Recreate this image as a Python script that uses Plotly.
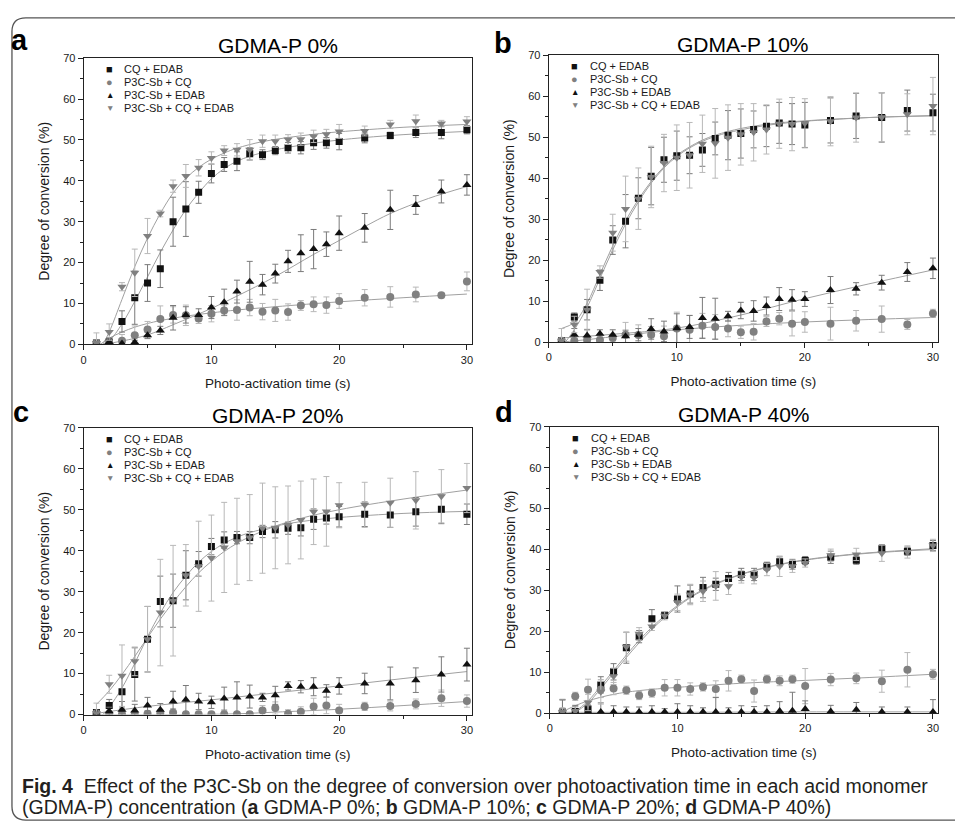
import plotly.graph_objects as go

W, H = 955, 829
FONT = "Liberation Sans, Arial, sans-serif"
CAP_FONT = "Liberation Sans, Arial, sans-serif"
TXT = "#1a1a1a"
AX = "#222222"

# ---------------- data ----------------
time_s = [1, 2, 3, 4, 5, 6, 7, 8, 9, 10, 11, 12, 13, 14, 15, 16, 17, 18, 19, 20, 22, 24, 26, 28, 30]

series_names = ["CQ + EDAB", "P3C-Sb + CQ", "P3C-Sb + EDAB", "P3C-Sb + CQ + EDAB"]

# Panel a: GDMA-P 0%
a_cq_edab = [0.3, 0.6, 5.6, 11.4, 15.0, 18.5, 30.0, 33.1, 37.2, 41.8, 44.0, 44.8, 46.6, 46.4, 47.4, 48.1, 48.1, 49.3, 49.3, 49.6, 50.5, 51.1, 51.8, 51.8, 52.5]
a_cq_edab_err = [0.5, 1.0, 2.6, 6.5, 4.5, 4.6, 6.0, 6.7, 2.7, 2.3, 1.7, 2.3, 1.5, 1.2, 1.0, 1.3, 1.5, 1.6, 1.3, 2.0, 1.2, 0.8, 1.2, 1.5, 1.0]
a_sb_cq = [0.3, 0.3, 0.9, 2.2, 3.6, 6.2, 7.2, 7.1, 6.3, 7.5, 8.3, 8.4, 9.0, 8.0, 8.3, 7.9, 9.5, 9.8, 9.6, 10.6, 11.4, 11.6, 12.2, 12.0, 15.4]
a_sb_cq_err = [0.5, 0.5, 1.5, 2.3, 2.0, 3.2, 2.0, 2.5, 1.2, 2.0, 1.3, 2.5, 2.0, 2.0, 2.7, 2.0, 1.2, 1.8, 2.0, 1.8, 2.0, 2.5, 1.8, 0.6, 2.3]
a_sb_edab = [0.2, 0.6, 0.2, 0.5, 2.2, 3.4, 6.5, 7.2, 7.2, 9.0, 10.3, 12.9, 15.3, 14.6, 17.3, 20.3, 22.3, 23.3, 24.5, 27.2, 28.5, 32.9, 34.1, 37.4, 39.0]
a_sb_edab_err = [0.5, 0.5, 0.5, 0.5, 0.8, 1.0, 3.0, 2.0, 1.5, 2.7, 3.2, 2.8, 5.0, 2.5, 2.3, 2.7, 4.5, 4.8, 3.0, 4.2, 3.5, 4.8, 2.3, 2.8, 2.5]
a_sb_cq_edab = [0.3, 3.0, 14.1, 17.5, 26.5, 32.0, 38.7, 41.2, 43.2, 45.6, 47.4, 47.6, 47.6, 49.7, 49.7, 50.1, 50.2, 50.9, 51.4, 52.1, 52.2, 53.8, 54.6, 54.0, 54.5]
a_sb_cq_edab_err = [2.5, 2.0, 1.0, 5.8, 4.3, 0.8, 1.5, 2.8, 2.0, 1.5, 1.2, 1.5, 2.5, 1.5, 1.5, 1.2, 1.5, 1.5, 1.2, 1.7, 1.2, 1.0, 1.5, 0.8, 1.2]

# Panel b: GDMA-P 10%
b_cq_edab = [0.3, 6.1, 7.9, 15.1, 24.9, 29.5, 35.1, 40.5, 44.5, 45.5, 45.6, 46.9, 49.7, 50.5, 50.9, 51.9, 52.7, 53.5, 53.2, 53.0, 54.1, 55.2, 54.8, 56.5, 56.0]
b_cq_edab_err = [0.5, 1.0, 2.5, 2.5, 3.5, 6.5, 5.0, 7.0, 5.5, 6.0, 4.5, 4.0, 4.0, 6.0, 6.0, 4.5, 5.0, 5.0, 5.0, 5.5, 5.5, 5.5, 6.0, 5.0, 4.5]
b_sb_cq = [0.3, 0.3, 0.5, 0.5, 1.0, 1.8, 1.7, 1.8, 1.4, 3.3, 3.0, 4.0, 3.7, 3.3, 2.4, 2.5, 5.0, 5.7, 4.5, 4.9, 4.5, 5.2, 5.6, 4.3, 7.0]
b_sb_cq_err = [0.5, 0.5, 1.0, 0.8, 1.0, 3.0, 2.5, 2.0, 2.5, 4.0, 3.5, 3.0, 3.0, 2.0, 1.5, 2.0, 1.2, 1.5, 3.0, 2.5, 4.0, 2.5, 3.2, 1.2, 1.0]
b_sb_edab = [0.2, 1.8, 1.6, 2.0, 1.8, 1.4, 1.8, 3.2, 2.6, 3.4, 3.7, 5.9, 5.7, 6.3, 7.7, 7.6, 8.8, 10.5, 10.3, 10.5, 12.7, 13.0, 14.5, 17.1, 18.0]
b_sb_edab_err = [0.5, 1.5, 1.5, 1.0, 1.2, 1.5, 1.5, 2.5, 2.5, 3.5, 2.8, 5.0, 5.0, 1.2, 2.0, 2.5, 2.2, 2.8, 2.5, 1.8, 3.3, 1.5, 1.8, 2.3, 2.5]
b_sb_cq_edab = [0.3, 4.3, 7.9, 17.1, 26.7, 32.5, 35.0, 40.3, 43.7, 45.0, 45.6, 48.4, 48.5, 49.9, 50.7, 51.2, 51.9, 53.3, 53.2, 53.4, 53.9, 54.8, 54.9, 55.6, 57.6]
b_sb_cq_edab_err = [3.0, 2.0, 5.0, 1.5, 4.5, 8.0, 7.5, 7.5, 7.0, 8.0, 8.0, 7.0, 8.5, 8.0, 7.5, 7.0, 6.0, 6.0, 6.5, 6.0, 6.0, 6.0, 6.0, 5.0, 7.0]

# Panel c: GDMA-P 20%
c_cq_edab = [0.5, 2.2, 5.6, 9.8, 18.4, 27.6, 27.8, 34.0, 36.8, 41.0, 42.6, 43.2, 43.2, 44.7, 45.1, 45.5, 45.6, 47.7, 48.0, 48.3, 48.9, 48.7, 49.5, 50.1, 48.9]
c_cq_edab_err = [0.5, 1.5, 4.0, 6.5, 8.0, 6.2, 6.5, 6.0, 3.0, 2.0, 2.0, 1.5, 1.5, 1.5, 2.0, 1.5, 2.0, 2.5, 1.5, 2.5, 3.0, 3.0, 3.5, 3.5, 2.5]
c_sb_cq = [0.3, 0.1, 0.1, 0.1, 0.2, 0.4, 0.5, 0.1, 0.1, 0.1, 0.1, 0.1, 0.1, 1.0, 1.6, 0.2, 0.7, 2.0, 2.2, 1.0, 2.0, 2.1, 2.6, 4.0, 3.3]
c_sb_cq_err = [0.5, 0.5, 1.0, 0.5, 0.8, 0.8, 1.0, 0.5, 0.5, 0.5, 0.5, 0.5, 0.5, 1.2, 1.5, 1.0, 1.2, 2.0, 2.0, 1.5, 1.0, 1.2, 1.2, 2.0, 1.5]
c_sb_edab = [0.3, 0.8, 1.2, 1.0, 2.2, 1.2, 3.2, 3.6, 3.2, 3.0, 3.9, 4.2, 4.4, 4.2, 4.7, 7.0, 6.8, 6.8, 5.8, 7.0, 7.6, 7.6, 8.4, 9.8, 12.2]
c_sb_edab_err = [0.5, 1.0, 2.0, 1.5, 2.0, 1.5, 2.5, 3.5, 2.0, 1.5, 2.8, 3.8, 2.8, 1.0, 2.2, 1.0, 1.5, 2.2, 1.5, 2.0, 2.5, 4.0, 3.0, 4.3, 4.0]
c_sb_cq_edab = [0.3, 7.4, 9.5, 13.0, 18.4, 24.9, 27.8, 34.0, 36.2, 38.2, 40.8, 42.3, 43.2, 45.5, 45.6, 46.3, 47.5, 49.5, 49.6, 51.1, 51.2, 51.7, 52.3, 53.3, 55.3]
c_sb_cq_edab_err = [2.5, 2.2, 7.5, 3.5, 8.0, 13.0, 13.5, 7.5, 11.0, 10.5, 11.0, 10.5, 10.5, 11.0, 10.0, 9.5, 9.5, 8.0, 8.5, 5.5, 5.5, 6.0, 7.0, 6.5, 6.0]

# Panel d: GDMA-P 40%
d_cq_edab = [0.3, 0.4, 1.0, 6.9, 10.1, 16.0, 18.7, 23.1, 23.9, 27.9, 29.1, 30.7, 31.5, 32.9, 33.9, 33.9, 35.9, 37.0, 36.4, 37.3, 38.1, 37.4, 40.2, 39.6, 41.0]
d_cq_edab_err = [3.0, 1.5, 1.0, 2.0, 2.0, 3.8, 1.5, 2.2, 0.8, 3.2, 2.2, 2.5, 1.5, 1.5, 1.5, 1.5, 1.0, 1.2, 1.2, 1.0, 1.5, 1.0, 1.0, 1.0, 1.2]
d_sb_cq = [0.4, 4.1, 5.7, 5.8, 6.0, 5.6, 4.3, 4.9, 6.2, 6.2, 5.9, 6.4, 5.9, 7.9, 8.3, 5.4, 8.3, 7.9, 8.3, 6.6, 8.2, 8.5, 7.8, 10.6, 9.5]
d_sb_cq_err = [3.0, 1.0, 2.6, 2.0, 1.5, 1.0, 1.0, 1.0, 2.0, 2.0, 1.5, 1.0, 2.0, 2.5, 1.0, 2.7, 1.0, 1.2, 1.0, 4.3, 1.5, 1.3, 2.7, 4.2, 1.2]
d_sb_edab = [0.2, 0.2, 0.3, 0.3, 0.3, 0.3, 0.3, 0.3, 0.3, 0.3, 0.3, 0.3, 0.3, 0.3, 0.3, 0.3, 0.3, 0.5, 0.6, 1.0, 0.4, 0.8, 0.3, 0.3, 0.3]
d_sb_edab_err = [3.0, 1.5, 1.5, 2.2, 1.5, 1.2, 1.2, 1.5, 0.8, 2.0, 1.5, 1.0, 3.5, 1.0, 1.5, 1.3, 1.5, 2.3, 4.5, 2.0, 1.5, 1.8, 1.2, 1.2, 3.0]
d_sb_cq_edab = [0.3, 0.5, 2.6, 5.2, 9.0, 16.2, 19.4, 21.2, 23.8, 27.1, 29.0, 29.8, 31.1, 31.0, 33.3, 33.1, 35.1, 35.9, 35.9, 36.7, 38.6, 38.8, 39.1, 39.4, 41.0]
d_sb_cq_edab_err = [1.0, 1.0, 2.0, 3.0, 2.0, 3.5, 1.5, 1.0, 1.0, 2.0, 2.5, 2.5, 3.5, 2.0, 1.5, 1.5, 1.5, 2.5, 1.5, 1.0, 1.5, 1.5, 2.0, 1.5, 1.5]

# Fitted curves
fa_cq_edab_t = [1.5, 2, 3, 4, 5, 6, 7, 8, 9, 10, 11, 12, 13, 14, 16, 18, 20, 22, 25, 30]
fa_cq_edab_v = [0, 0.8, 5.0, 10.5, 16.5, 22.5, 28.0, 33.0, 37.0, 40.5, 43.0, 44.8, 46.0, 46.9, 48.2, 49.2, 50.0, 50.6, 51.3, 52.1]
fa_sb_cq_t = [1.3, 2, 3, 4, 5, 6, 8, 10, 12, 15, 20, 25, 30]
fa_sb_cq_v = [0, 1.5, 3.0, 4.2, 5.1, 5.8, 6.9, 7.7, 8.4, 9.2, 10.4, 11.4, 12.3]
fa_sb_edab_t = [1.5, 3, 5, 7, 10, 12, 15, 18, 20, 22, 24, 27, 30]
fa_sb_edab_v = [0, 0.8, 2.3, 4.8, 8.8, 11.8, 16.6, 22.0, 25.4, 28.8, 32.0, 35.7, 38.6]
fa_sb_cq_edab_t = [1.5, 2, 3, 4, 5, 6, 7, 8, 9, 10, 11, 12, 14, 16, 18, 20, 25, 30]
fa_sb_cq_edab_v = [0, 3.0, 11.0, 19.0, 26.0, 32.0, 37.0, 40.6, 43.3, 45.3, 46.8, 48.0, 49.6, 50.6, 51.4, 52.0, 53.1, 53.8]

fb_cq_edab_t = [1.3, 2, 3, 4, 5, 6, 7, 8, 9, 10, 11, 12, 13, 14, 16, 18, 20, 22, 25, 30]
fb_cq_edab_v = [0, 3.0, 8.5, 15.5, 22.5, 28.8, 34.2, 38.8, 42.5, 45.3, 47.4, 49.0, 50.2, 51.1, 52.4, 53.3, 53.9, 54.3, 54.8, 55.3]
fb_sb_cq_t = [1, 3, 5, 10, 15, 20, 25, 30]
fb_sb_cq_v = [0, 0.6, 1.3, 3.0, 4.1, 4.9, 5.5, 6.0]
fb_sb_edab_t = [1, 5, 10, 15, 20, 25, 30]
fb_sb_edab_v = [1.0, 1.9, 3.4, 6.6, 10.6, 14.2, 17.6]
fb_sb_cq_edab_t = [1, 2, 3, 4, 5, 6, 7, 8, 9, 10, 12, 14, 16, 18, 20, 25, 30]
fb_sb_cq_edab_v = [3.3, 4.8, 9.5, 16.5, 23.5, 29.6, 34.8, 39.2, 42.8, 45.6, 49.3, 51.4, 52.7, 53.5, 54.0, 54.8, 55.2]

fc_cq_edab_t = [1.5, 2, 3, 4, 5, 6, 7, 8, 9, 10, 11, 12, 13, 15, 17, 20, 25, 30]
fc_cq_edab_v = [0, 1.8, 6.5, 12.5, 19.0, 24.8, 29.8, 33.8, 37.2, 39.8, 41.8, 43.3, 44.4, 46.0, 47.1, 48.1, 49.1, 49.6]
fc_sb_cq_t = [1, 8, 12, 15, 20, 25, 30]
fc_sb_cq_v = [0, 0, 0.2, 0.6, 1.3, 2.2, 3.2]
fc_sb_edab_t = [1, 5, 10, 15, 20, 25, 30]
fc_sb_edab_v = [0.3, 2.0, 3.6, 5.3, 7.0, 8.8, 10.5]
fc_sb_cq_edab_t = [1, 2, 3, 4, 5, 6, 7, 8, 9, 10, 11, 12, 13, 15, 17, 20, 25, 30]
fc_sb_cq_edab_v = [2.5, 5.8, 9.8, 14.2, 18.8, 23.3, 27.4, 31.2, 34.6, 37.4, 39.8, 41.8, 43.4, 46.0, 47.9, 50.0, 52.6, 54.8]

fd_cq_edab_t = [1.5, 2, 3, 4, 5, 6, 7, 8, 9, 10, 11, 12, 13, 14, 15, 16, 18, 20, 22, 25, 30]
fd_cq_edab_v = [0, 0.5, 3.0, 6.6, 10.4, 14.2, 17.8, 21.0, 23.8, 26.3, 28.4, 30.2, 31.7, 32.9, 34.0, 34.9, 36.4, 37.5, 38.3, 39.2, 40.2]
fd_sb_cq_t = [1.3, 2, 3, 5, 7, 10, 15, 20, 25, 30]
fd_sb_cq_v = [0.8, 1.8, 3.0, 4.6, 5.5, 6.3, 7.3, 8.0, 8.7, 9.5]
fd_sb_edab_t = [1, 10, 20, 30]
fd_sb_edab_v = [0.2, 0.2, 0.3, 0.3]
fd_sb_cq_edab_t = [1.5, 2, 3, 4, 5, 6, 7, 8, 9, 10, 11, 12, 13, 14, 15, 16, 18, 20, 22, 25, 30]
fd_sb_cq_edab_v = [0, 0.3, 2.5, 6.0, 9.8, 13.6, 17.2, 20.5, 23.4, 26.0, 28.2, 30.0, 31.5, 32.8, 33.9, 34.8, 36.3, 37.4, 38.2, 39.1, 40.0]

panel_titles = ["GDMA-P 0%", "GDMA-P 10%", "GDMA-P 20%", "GDMA-P 40%"]
panel_letters = ["a", "b", "c", "d"]
x_title = "Photo-activation time (s)"
y_title = "Degree of conversion (%)"
caption_1 = "<b>Fig. 4</b>  Effect of the P3C-Sb on the degree of conversion over photoactivation time in each acid monomer"
caption_2 = "(GDMA-P) concentration (<b>a</b> GDMA-P 0%; <b>b</b> GDMA-P 10%; <b>c</b> GDMA-P 20%; <b>d</b> GDMA-P 40%)"

# ---------------- styling / layout geometry ----------------
BLACK = "#111111"
GREY = "#808080"
ERR_DARK = "#7a7a7a"
ERR_LIGHT = "#b8b8b8"
FIT = "#a0a0a0"
styles = [
    dict(symbol="square", color=BLACK, size=7, err=ERR_DARK, glyph="\u25A0", gsize=11),
    dict(symbol="circle", color=GREY, size=8, err=ERR_LIGHT, glyph="\u25CF", gsize=11),
    dict(symbol="triangle-up", color=BLACK, size=8, err=ERR_DARK, glyph="\u25B2", gsize=8.5),
    dict(symbol="triangle-down", color=GREY, size=8, err=ERR_LIGHT, glyph="\u25BC", gsize=8.5),
]

# plot-area pixel boxes: (left, right, top, bottom)
boxes = [(81, 471, 53, 343.3), (548, 939, 50, 341), (81, 471, 428, 719), (549, 939, 427, 717.5)]
letter_pos = [(6, 34), (491, 38), (8, 412), (492, 412)]
title_y = [40, 39, 416, 415]

data = [
    [(a_cq_edab, a_cq_edab_err), (a_sb_cq, a_sb_cq_err), (a_sb_edab, a_sb_edab_err), (a_sb_cq_edab, a_sb_cq_edab_err)],
    [(b_cq_edab, b_cq_edab_err), (b_sb_cq, b_sb_cq_err), (b_sb_edab, b_sb_edab_err), (b_sb_cq_edab, b_sb_cq_edab_err)],
    [(c_cq_edab, c_cq_edab_err), (c_sb_cq, c_sb_cq_err), (c_sb_edab, c_sb_edab_err), (c_sb_cq_edab, c_sb_cq_edab_err)],
    [(d_cq_edab, d_cq_edab_err), (d_sb_cq, d_sb_cq_err), (d_sb_edab, d_sb_edab_err), (d_sb_cq_edab, d_sb_cq_edab_err)],
]
fits = [
    [(fa_cq_edab_t, fa_cq_edab_v), (fa_sb_cq_t, fa_sb_cq_v), (fa_sb_edab_t, fa_sb_edab_v), (fa_sb_cq_edab_t, fa_sb_cq_edab_v)],
    [(fb_cq_edab_t, fb_cq_edab_v), (fb_sb_cq_t, fb_sb_cq_v), (fb_sb_edab_t, fb_sb_edab_v), (fb_sb_cq_edab_t, fb_sb_cq_edab_v)],
    [(fc_cq_edab_t, fc_cq_edab_v), (fc_sb_cq_t, fc_sb_cq_v), (fc_sb_edab_t, fc_sb_edab_v), (fc_sb_cq_edab_t, fc_sb_cq_edab_v)],
    [(fd_cq_edab_t, fd_cq_edab_v), (fd_sb_cq_t, fd_sb_cq_v), (fd_sb_edab_t, fd_sb_edab_v), (fd_sb_cq_edab_t, fd_sb_cq_edab_v)],
]

def px(x):
    return x / W

def py(y):
    return 1 - y / H

XR = [0, 30.4]
YR = [0, 70]

fig = go.Figure()
layout = dict(
    width=W, height=H, margin=dict(l=0, r=0, t=0, b=0),
    paper_bgcolor="white", plot_bgcolor="white", showlegend=False,
    font=dict(family=FONT, color=TXT),
)
annotations = []

for i in range(4):
    n = i + 1
    xa = "x" if n == 1 else f"x{n}"
    ya = "y" if n == 1 else f"y{n}"
    L, R, T, B = boxes[i]
    xdom = [px(L), px(R)]
    ydom = [py(B), py(T)]

    # fits first (beneath markers)
    for (ft, fv) in fits[i]:
        fig.add_trace(go.Scatter(x=ft, y=fv, mode="lines", xaxis=xa, yaxis=ya,
                                 line=dict(color=FIT, width=1, shape="spline", smoothing=1.0),
                                 hoverinfo="skip", showlegend=False))
    for k, (vals, errs) in enumerate(data[i]):
        st = styles[k]
        fig.add_trace(go.Scatter(
            x=time_s, y=vals, mode="markers", name=series_names[k], xaxis=xa, yaxis=ya,
            marker=dict(symbol=st["symbol"], color=st["color"], size=st["size"], line=dict(width=0)),
            error_y=dict(type="data", array=errs, visible=True, color=st["err"], thickness=1, width=3),
            showlegend=False))

    common_font = dict(family=FONT, size=11, color=TXT)
    layout[f"xaxis{n}"] = dict(
        domain=xdom, anchor=ya, range=XR, tick0=0, dtick=10, ticks="outside", ticklen=5,
        tickwidth=1, tickcolor=AX, showline=True, linecolor=AX, linewidth=1, mirror=True,
        showgrid=False, zeroline=False, tickfont=common_font,
        minor=dict(dtick=5, tick0=0, ticks="outside", ticklen=3, tickcolor=AX, showgrid=False),
        title=dict(text=x_title, font=dict(family=FONT, size=13.5, color=TXT), standoff=14))
    layout[f"yaxis{n}"] = dict(
        domain=ydom, anchor=xa, range=YR, tick0=0, dtick=10, ticks="outside", ticklen=5,
        tickwidth=1, tickcolor=AX, showline=True, linecolor=AX, linewidth=1, mirror=True,
        showgrid=False, zeroline=False, tickfont=common_font,
        minor=dict(dtick=5, tick0=0, ticks="outside", ticklen=3, tickcolor=AX, showgrid=False),
        title=dict(text=y_title, font=dict(family=FONT, size=14, color=TXT), standoff=10))
    # inward ticks on top / right
    layout[f"xaxis{n + 4}"] = dict(
        overlaying=xa, side="top", anchor=ya, range=XR, tick0=0, dtick=10, ticks="inside",
        ticklen=5, tickcolor=AX, showticklabels=False, showline=False, showgrid=False,
        zeroline=False, minor=dict(dtick=5, tick0=0, ticks="inside", ticklen=3, tickcolor=AX))
    layout[f"yaxis{n + 4}"] = dict(
        overlaying=ya, side="right", anchor=xa, range=YR, tick0=0, dtick=10, ticks="inside",
        ticklen=5, tickcolor=AX, showticklabels=False, showline=False, showgrid=False,
        zeroline=False, minor=dict(dtick=5, tick0=0, ticks="inside", ticklen=3, tickcolor=AX))

    # panel letter and title
    lx, ly = letter_pos[i]
    annotations.append(dict(text=f"<b>{panel_letters[i]}</b>", x=px(lx), y=py(ly), xref="paper", yref="paper",
                            xanchor="left", yanchor="middle", showarrow=False,
                            font=dict(family=FONT, size=29, color="#000")))
    annotations.append(dict(text=panel_titles[i], x=px((L + R) / 2), y=py(title_y[i]), xref="paper", yref="paper",
                            xanchor="center", yanchor="middle", showarrow=False,
                            font=dict(family=FONT, size=21, color="#000")))
    # legend
    for k in range(4):
        st = styles[k]
        ry = T + 11 + 13.2 * k
        annotations.append(dict(text=st["glyph"], x=px(L + 26), y=py(ry), xref="paper", yref="paper",
                                xanchor="center", yanchor="middle", showarrow=False,
                                font=dict(family=FONT, size=st["gsize"], color=st["color"])))
        annotations.append(dict(text=series_names[k], x=px(L + 39), y=py(ry), xref="paper", yref="paper",
                                xanchor="left", yanchor="middle", showarrow=False,
                                font=dict(family=FONT, size=11, color=TXT)))

# caption
annotations.append(dict(text=caption_1, x=px(17), y=py(791), xref="paper", yref="paper",
                        xanchor="left", yanchor="middle", showarrow=False,
                        font=dict(family=CAP_FONT, size=19.5, color="#231f20")))
annotations.append(dict(text=caption_2, x=px(17), y=py(813), xref="paper", yref="paper",
                        xanchor="left", yanchor="middle", showarrow=False,
                        font=dict(family=CAP_FONT, size=19.5, color="#231f20")))

# rounded frame around figure
def P(x, y):
    return f"{px(x):.5f},{py(y):.5f}"
frame = (f"M {P(975, 12)} L {P(23, 12)} Q {P(9, 12)} {P(9, 26)} L {P(9, 812)} "
         f"Q {P(9, 826)} {P(23, 826)} L {P(975, 826)}")
layout["shapes"] = [dict(type="path", path=frame, xref="paper", yref="paper",
                         line=dict(color="#555555", width=1.3), layer="below")]
layout["annotations"] = annotations

fig.update_layout(**layout)
fig.write_html("out.html", config={"displayModeBar": False},
               post_script="document.body.style.margin='0';document.body.style.overflow='hidden';")
